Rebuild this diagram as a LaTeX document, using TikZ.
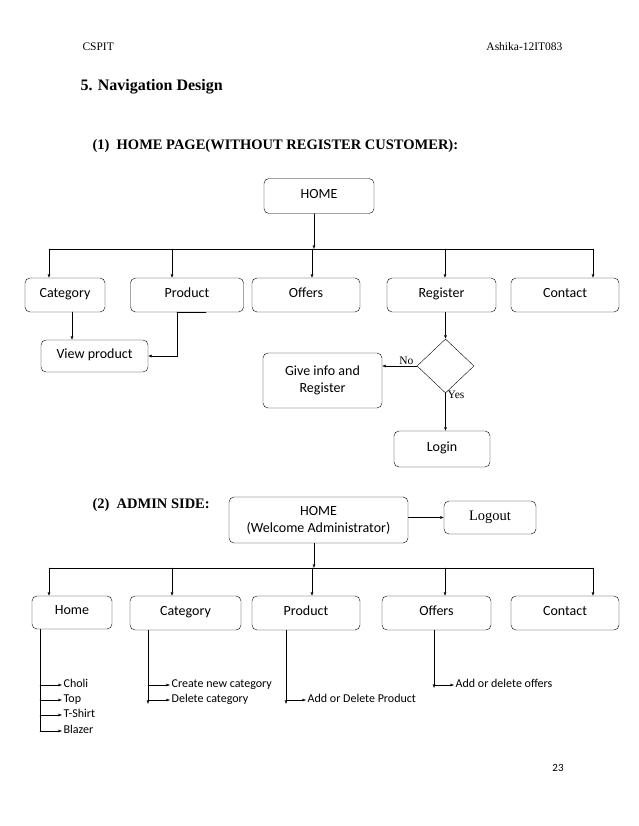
\documentclass[tikz,border=0pt]{standalone}
\usepackage{fontspec}
\setmainfont{Liberation Serif}
\newfontfamily\boxfont{Carlito}
\usetikzlibrary{arrows.meta, calc, positioning, shapes.geometric}

\begin{document}
\begin{tikzpicture}[x=1pt,y=-1pt,line cap=round,line join=round,>={Latex[length=3.5pt,width=3pt]},
  pagebox/.style={draw, rounded corners=5pt, thin, align=center, font=\boxfont\fontsize{14}{17}\selectfont, inner sep=0pt},
  onebox/.style={pagebox, text height=1.45ex, text depth=0.45ex},
  leaf/.style={anchor=west, inner sep=1.5pt, text height=1.45ex, text depth=0.45ex, font=\boxfont\fontsize{12}{14}\selectfont},
  link/.style={thin, ->}]
% page size
\useasboundingbox (0,0) rectangle (638,826);

% --- header ---
\node (cspit) [anchor=west, font=\fontsize{11.5}{13}\selectfont] at (79,47) {CSPIT};
\node (author) [anchor=east, font=\fontsize{11.5}{13}\selectfont] at (566,47) {Ashika-12IT083};
\node (title) [anchor=west, font=\bfseries\fontsize{16}{18}\selectfont] at (77,87) {5. Navigation Design};
\node (part1) [anchor=west, font=\bfseries\fontsize{14.5}{16}\selectfont] at (89,146) {(1)\enspace HOME PAGE(WITHOUT REGISTER CUSTOMER):};

% --- (1) home page ---
\node (home1) [onebox, minimum width=110, minimum height=35] at (319,196) {HOME};
\node (cat1)  [onebox, minimum width=80,  minimum height=34] at (65,295) {Category};
\node (prod1) [onebox, minimum width=113, minimum height=34] at (187,295) {Product};
\node (off1)  [onebox, minimum width=108, minimum height=34] at (306,295) {Offers};
\node (reg1)  [onebox, minimum width=109, minimum height=34] at (441.5,295) {Register};
\node (con1)  [onebox, minimum width=108, minimum height=34] at (565,295) {Contact};
\node (view)  [onebox, minimum width=107, minimum height=32] at (94.5,356) {View product};
\node (dia)   [draw, thin, diamond, inner sep=0pt, minimum width=57, minimum height=54] at (445.5,366) {};
\node (give)  [pagebox, minimum width=119, minimum height=55] at (322.5,380.5) {Give info and\\Register};
\node (login) [onebox, minimum width=96,  minimum height=36] at (442,449) {Login};

% bus
\coordinate (bus1W) at (49,249);
\coordinate (bus1E) at (593,249);
\coordinate (bus1H) at (314,249);
\coordinate (bus1P) at (172,249);
\coordinate (bus1O) at (312,249);
\coordinate (bus1R) at (445,249);
\draw [thin] (bus1W) -- (bus1E);
\draw [link] (bus1H |- home1.south) -- (bus1H);
\draw [link] (bus1W) -- (bus1W |- cat1.north);
\draw [link] (bus1P) -- (bus1P |- prod1.north);
\draw [link] (bus1O) -- (bus1O |- off1.north);
\draw [link] (bus1R) -- (bus1R |- reg1.north);
\draw [link] (bus1E) -- (bus1E |- con1.north);

% view product
\coordinate (catD) at (72,312);
\coordinate (prodD) at (177,312);
\draw [link] (catD) -- (catD |- view.north);
\draw [link] (prodD) |- (view.east);
\draw [thick] (prodD) -- ++(29,0);

% register decision
\draw [link] (dia.north |- reg1.south) -- (dia.north);
\draw [link] (dia.west) -- (dia.west -| give.east) node [pos=0.3, above, inner sep=1.5pt, font=\fontsize{11.5}{13}\selectfont] {No};
\draw [link] (dia.south) -- (dia.south |- login.north);
\node (yes) [anchor=west, inner sep=1pt, font=\fontsize{11.5}{13}\selectfont] at ($(dia.south)+(1,2)$) {Yes};

% --- (2) admin side ---
\node (part2) [anchor=west, font=\bfseries\fontsize{14.5}{16}\selectfont] at (89,505) {(2)\enspace ADMIN SIDE:};

\node (home2)  [pagebox, minimum width=179, minimum height=46] at (318.5,520) {HOME\\(Welcome Administrator)};
\node (logout) [draw, thin, rounded corners=5pt, inner sep=0pt, minimum width=92, minimum height=33, font=\fontsize{14.5}{16}\selectfont] at (490,517.5) {Logout};
\node (hm2)   [onebox, minimum width=80,  minimum height=33] at (72,612.5) {Home};
\node (cat2)  [onebox, minimum width=111, minimum height=34] at (185.5,613) {Category};
\node (prod2) [onebox, minimum width=108, minimum height=34] at (306,613) {Product};
\node (off2)  [onebox, minimum width=109, minimum height=34] at (436.5,613) {Offers};
\node (con2)  [onebox, minimum width=108, minimum height=34] at (565,613) {Contact};

\draw [link] (logout.west -| home2.east) -- (logout.west);

% bus
\coordinate (bus2W) at (49,568);
\coordinate (bus2E) at (593,568);
\coordinate (bus2H) at (314,568);
\coordinate (bus2C) at (172,568);
\coordinate (bus2P) at (312,568);
\coordinate (bus2O) at (445,568);
\draw [thin] (bus2W) -- (bus2E);
\draw [link] (bus2H |- home2.south) -- (bus2H);
\draw [link] (bus2W) -- (bus2W |- hm2.north);
\draw [link] (bus2C) -- (bus2C |- cat2.north);
\draw [link] (bus2P) -- (bus2P |- prod2.north);
\draw [link] (bus2O) -- (bus2O |- off2.north);
\draw [link] (bus2E) -- (bus2E |- con2.north);

% sub pages
\node (choli)  [leaf] at (62,685) {Choli};
\node (top)    [leaf] at (62,700) {Top};
\node (tshirt) [leaf] at (62,715) {T-Shirt};
\node (blazer) [leaf] at (62,731) {Blazer};
\node (newcat) [leaf] at (170,685) {Create new category};
\node (delcat) [leaf] at (170,700) {Delete category};
\node (adddel) [leaf] at (306,700) {Add or Delete Product};
\node (addoff) [leaf] at (454,685) {Add or delete offers};

\coordinate (hmL) at (40,731);
\coordinate (catL) at (148,704);
\coordinate (prodL) at (286,704);
\coordinate (offL) at (434,688);
\draw [thin] (hmL |- hm2.south) -- (hmL);
\draw [link] (hmL |- choli) -- (choli.west);
\draw [link] (hmL |- top) -- (top.west);
\draw [link] (hmL |- tshirt) -- (tshirt.west);
\draw [link] (hmL) -- (blazer.west);
\draw [link] (catL |- cat2.south) -- (catL);
\draw [link] (catL |- newcat) -- (newcat.west);
\draw [link] (catL |- delcat) -- (delcat.west);
\draw [link] (prodL |- prod2.south) -- (prodL);
\draw [link] (prodL |- adddel) -- (adddel.west);
\draw [link] (offL |- off2.south) -- (offL);
\draw [link] (offL |- addoff) -- (addoff.west);

% page number
\node (pageno) [font=\boxfont\fontsize{11}{13}\selectfont] at (558,768) {23};
\end{tikzpicture}
\end{document}
